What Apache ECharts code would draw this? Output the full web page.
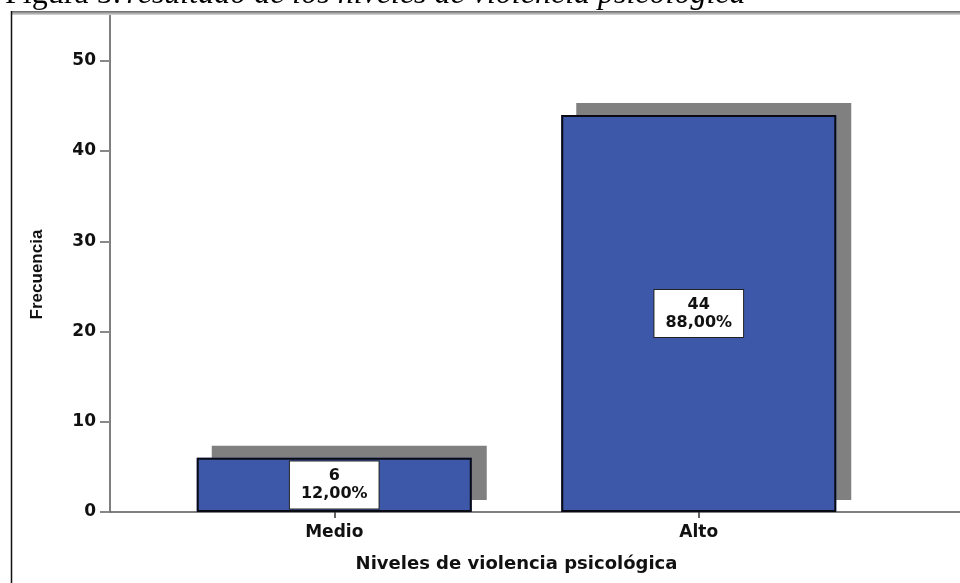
<!DOCTYPE html>
<html>
<head>
<meta charset="utf-8">
<script src="https://cdn.jsdelivr.net/npm/echarts@6/dist/echarts.min.js"></script>
<style>
  html, body { margin: 0; padding: 0; background: #fff; }
  #chart { width: 960px; height: 583px; }
</style>
</head>
<body>
<div id="chart"></div>
<script>
// datos
var categorias = ["Medio", "Alto"];
var frecuencias = [6, 44];
var porcentajes = ["12,00%", "88,00%"];
var yTicks = [0, 10, 20, 30, 40, 50];

var chart = echarts.init(document.getElementById("chart"));

var labelFont = "DejaVu Sans, Liberation Sans, sans-serif";

var option = {
  backgroundColor: "#fff",
  animation: false,
  title: {
    left: 0,
    top: -26,
    text: "{a|Figura 5:} {b|resultado de los niveles de violencia psicológica}",
    textStyle: {
      rich: {
        a: { fontFamily: "Liberation Serif", fontWeight: "normal", fontSize: 32, color: "#000" },
        b: { fontFamily: "Liberation Serif", fontWeight: "normal", fontStyle: "italic", fontSize: 32, color: "#000" }
      }
    }
  },
  graphic: [
    // marco del grafico
    {
      type: "rect",
      shape: { x: 11, y: 11, width: 949, height: 4 },
      style: {
        fill: new echarts.graphic.LinearGradient(0, 0, 0, 1, [
          { offset: 0, color: "#666" },
          { offset: 1, color: "#ddd" }
        ])
      },
      z: 100
    },
    {
      type: "line",
      shape: { x1: 11.5, y1: 11, x2: 11.5, y2: 583 },
      style: { stroke: "#111", lineWidth: 1.5 },
      z: 100
    }
  ],
  grid: [
    { left: 152, right: 79, top: 13, bottom: 71 },
    { left: 110, right: 0, top: 13, bottom: 71 }
  ],
  xAxis: [
    {
      type: "category",
      gridIndex: 0,
      data: categorias,
      axisLine: { show: false },
      axisTick: { show: true, alignWithLabel: true, length: 6, lineStyle: { color: "#333", width: 1.5 } },
      axisLabel: { margin: 12, color: "#111", fontFamily: labelFont, fontWeight: "bold", fontSize: 17 },
      name: "Niveles de violencia psicológica",
      nameLocation: "middle",
      nameGap: 43,
      nameTextStyle: { color: "#111", fontFamily: labelFont, fontWeight: "bold", fontSize: 18 }
    },
    {
      type: "value",
      gridIndex: 1,
      min: 0,
      max: 1,
      axisLine: { show: true, lineStyle: { color: "#555", width: 1.5 } },
      axisTick: { show: false },
      axisLabel: { show: false },
      splitLine: { show: false }
    }
  ],
  yAxis: [
    {
      type: "value",
      gridIndex: 0,
      min: 0,
      max: 55.3,
      offset: 42,
      axisLine: { show: true, lineStyle: { color: "#555", width: 1.5 } },
      axisTick: { show: true, length: 10, customValues: yTicks, lineStyle: { color: "#888", width: 2 } },
      axisLabel: { margin: 14, customValues: yTicks, color: "#111", fontFamily: labelFont, fontWeight: "bold", fontSize: 17 },
      splitLine: { show: false },
      name: "Frecuencia",
      nameLocation: "middle",
      nameGap: 64,
      nameRotate: 90,
      nameTextStyle: {
        color: "#111",
        fontFamily: "Liberation Sans Narrow, Liberation Sans, sans-serif",
        fontWeight: "bold",
        fontSize: 17,
        padding: [0, 24, 0, 0]
      }
    },
    {
      type: "value",
      gridIndex: 1,
      show: false
    }
  ],
  series: [
    {
      // relleno con sombra gris
      type: "bar",
      xAxisIndex: 0,
      yAxisIndex: 0,
      data: frecuencias,
      barWidth: 275,
      z: 2,
      itemStyle: {
        color: "#3D58A9",
        borderWidth: 0,
        shadowColor: "#808080",
        shadowBlur: 0,
        shadowOffsetX: 15,
        shadowOffsetY: -12
      }
    },
    {
      // borde y etiqueta
      type: "bar",
      xAxisIndex: 0,
      yAxisIndex: 0,
      data: frecuencias,
      barWidth: 275,
      barGap: "-100%",
      z: 3,
      itemStyle: {
        color: "rgba(0,0,0,0)",
        borderColor: "#0a0a14",
        borderWidth: 2
      },
      label: {
        show: true,
        position: "inside",
        formatter: function (p) {
          return frecuencias[p.dataIndex] + "\n" + porcentajes[p.dataIndex];
        },
        color: "#111",
        fontFamily: labelFont,
        fontWeight: "bold",
        fontSize: 16,
        lineHeight: 18,
        align: "center",
        backgroundColor: "#fff",
        borderColor: "#222",
        borderWidth: 1,
        padding: [6, 11, 5, 11]
      }
    }
  ]
};

chart.setOption(option);
</script>
</body>
</html>
